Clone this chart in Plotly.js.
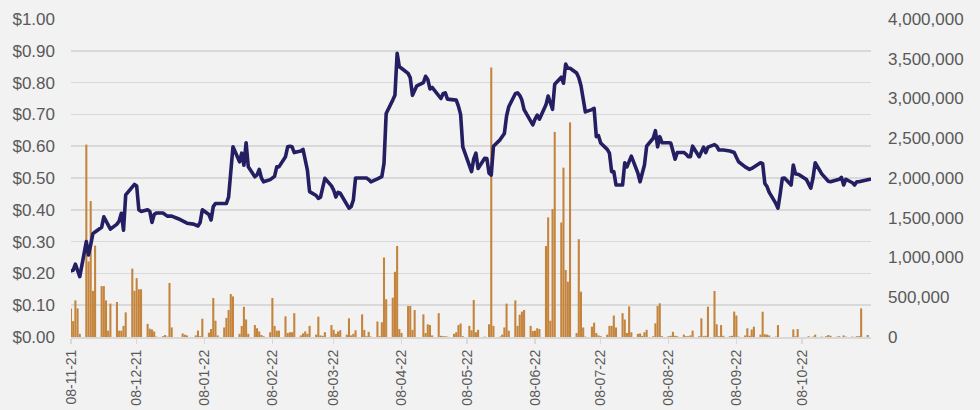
<!DOCTYPE html>
<html>
<head>
<meta charset="utf-8">
<script src="https://cdn.plot.ly/plotly-3.0.1.min.js"></script>
<style>
  html, body { margin: 0; padding: 0; background: #f2f2f2; }
  #chart { width: 980px; height: 410px; }
  #chart .scatterlayer path.js-line { stroke-linejoin: round; stroke-linecap: round; }
</style>
</head>
<body>
<div id="chart"></div>
<script>
// Trading days (weekdays) from the first to the last session shown
const startDate = '2021-11-08';
const endDate = '2022-11-08';

// Closing price per trading day (AUD)
const price = [
  0.208, 0.21, 0.229, 0.21, 0.19,
  0.30, 0.258, 0.29, 0.325, 0.33,
  0.345, 0.378, 0.365, 0.35, 0.339,
  0.355, 0.365, 0.389, 0.336, 0.447,
  0.47, 0.48, 0.475, 0.40, 0.395,
  0.40, 0.395, 0.36, 0.385, 0.39,
  0.39, 0.385, 0.38, 0.38, 0.38,
  0.372, 0.368, 0.365, 0.36, 0.358,
  0.355, 0.352, 0.349, 0.36, 0.40,
  0.385, 0.368, 0.41, 0.42, 0.42,
  0.42, 0.42, 0.44, 0.52, 0.598,
  0.551, 0.578, 0.54, 0.611, 0.535,
  0.504, 0.51, 0.527, 0.50, 0.488,
  0.495, 0.50, 0.505, 0.535, 0.535,
  0.567, 0.598, 0.60, 0.598, 0.58,
  0.585, 0.59, 0.555, 0.525, 0.457,
  0.445, 0.436, 0.44, 0.47, 0.499,
  0.475, 0.462, 0.44, 0.455, 0.452,
  0.42, 0.405, 0.41, 0.431, 0.50,
  0.50, 0.50, 0.50, 0.495, 0.488,
  0.497, 0.50, 0.504, 0.546, 0.703,
  0.745, 0.76, 0.892, 0.85, 0.845,
  0.829, 0.815, 0.76, 0.775, 0.79,
  0.80, 0.82, 0.81, 0.78, 0.785,
  0.755, 0.75, 0.765, 0.768, 0.748,
  0.747, 0.745, 0.726, 0.70, 0.598,
  0.545, 0.52, 0.56, 0.578, 0.53,
  0.562, 0.561, 0.515, 0.509, 0.60,
  0.62, 0.63, 0.64, 0.695, 0.724,
  0.765, 0.768, 0.76, 0.745, 0.715,
  0.68, 0.667, 0.685, 0.698, 0.685,
  0.73, 0.758, 0.735, 0.716, 0.795,
  0.817, 0.798, 0.858, 0.845, 0.845,
  0.83, 0.815, 0.79, 0.75, 0.708,
  0.715, 0.719, 0.63, 0.633, 0.61,
  0.59, 0.578, 0.52, 0.52, 0.478,
  0.478, 0.548, 0.535, 0.55, 0.569,
  0.515, 0.488, 0.515, 0.541, 0.60,
  0.625, 0.649, 0.598, 0.63, 0.611,
  0.611, 0.61, 0.585, 0.559, 0.58,
  0.58, 0.575, 0.567, 0.567, 0.60,
  0.567, 0.585, 0.597, 0.58, 0.597,
  0.605, 0.60, 0.588, 0.588, 0.588,
  0.585, 0.583, 0.58, 0.565, 0.551,
  0.535, 0.53, 0.527, 0.53, 0.535,
  0.548, 0.545, 0.483, 0.473, 0.455,
  0.42, 0.405, 0.45, 0.499, 0.50,
  0.478, 0.541, 0.513, 0.512, 0.509,
  0.495, 0.48, 0.468, 0.50, 0.548,
  0.513, 0.505, 0.496, 0.49, 0.488,
  0.494, 0.496, 0.502, 0.478, 0.496,
  0.485, 0.478, 0.488, 0.488, 0.49,
  0.494, 0.496
];

// Shares traded per trading day
const volume = [
  360000, 200000, 460000, 360000, 40000,
  2420000, 950000, 1710000, 580000, 1150000,
  640000, 640000, 460000, 80000, 420000,
  440000, 80000, 80000, 140000, 310000,
  860000, 580000, 740000, 600000, 600000,
  165000, 105000, 95000, 70000, 5000,
  10000, 25000, 5000, 680000, 120000,
  0, 0, 45000, 30000, 20000,
  0, 20000, 80000, 10000, 230000,
  55000, 100000, 490000, 205000, 20000,
  120000, 240000, 340000, 540000, 510000,
  40000, 140000, 380000, 220000, 40000,
  150000, 110000, 70000, 25000, 10000,
  60000, 490000, 140000, 80000, 80000,
  260000, 50000, 60000, 60000, 300000,
  20000, 45000, 70000, 40000, 140000,
  30000, 255000, 20000, 15000, 60000,
  150000, 90000, 40000, 70000, 85000,
  30000, 235000, 20000, 40000, 85000,
  285000, 90000, 10000, 65000, 5000,
  195000, 10000, 185000, 1000000, 475000,
  495000, 820000, 1145000, 100000, 50000,
  390000, 390000, 90000, 340000, 0,
  285000, 50000, 160000, 150000, 20000,
  300000, 15000, 10000, 10000, 5000,
  40000, 60000, 150000, 170000, 10000,
  140000, 85000, 465000, 60000, 90000,
  5000, 0, 160000, 3390000, 140000,
  5000, 30000, 120000, 420000, 80000,
  460000, 140000, 280000, 320000, 340000,
  140000, 75000, 80000, 110000, 100000,
  1145000, 1505000, 205000, 1610000, 2580000,
  1440000, 2130000, 843000, 696000, 2700000,
  50000, 1230000, 570000, 120000, 5000,
  130000, 180000, 50000, 20000, 10000,
  30000, 140000, 140000, 270000, 120000,
  300000, 220000, 50000, 385000, 60000,
  40000, 45000, 15000, 60000, 90000,
  10000, 172000, 390000, 424000, 10000,
  10000, 15000, 65000, 15000, 10000,
  30000, 10000, 10000, 20000, 80000,
  10000, 235000, 10000, 15000, 381000,
  579000, 160000, 10000, 150000, 15000,
  10000, 15000, 320000, 270000, 5000,
  20000, 110000, 15000, 95000, 130000,
  30000, 318000, 35000, 30000, 20000,
  5000, 150000, 0, 0, 0,
  0, 95000, 10000, 100000, 0,
  0, 10000, 0, 5000, 30000,
  5000, 0, 10000, 25000, 15000,
  5000, 10000, 0, 20000, 5000,
  5000, 0, 10000, 10000, 360000,
  25000, 0
];

// Month tick positions and labels
const tickDates = ['2021-11-08','2021-12-08','2022-01-08','2022-02-08','2022-03-08','2022-04-08',
                   '2022-05-08','2022-06-08','2022-07-08','2022-08-08','2022-09-08','2022-10-08'];
const tickLabels = ['08-11-21','08-12-21','08-01-22','08-02-22','08-03-22','08-04-22',
                    '08-05-22','08-06-22','08-07-22','08-08-22','08-09-22','08-10-22'];

// Build the list of weekdays
function weekdays(s, e) {
  const out = [];
  const d = new Date(s + 'T00:00:00Z');
  const end = new Date(e + 'T00:00:00Z');
  while (d <= end) {
    const wd = d.getUTCDay();
    if (wd !== 0 && wd !== 6) out.push(d.toISOString().slice(0, 10));
    d.setUTCDate(d.getUTCDate() + 1);
  }
  return out;
}
const dates = weekdays(startDate, endDate);

const fontFam = 'Liberation Sans, Arial, sans-serif';
const txtCol = '#595959';

const traces = [
  {
    type: 'bar', x: dates, y: volume, yaxis: 'y',
    marker: { color: '#c4843c', line: { width: 0 } },
    hoverinfo: 'x+y'
  },
  {
    type: 'scatter', mode: 'lines', x: dates, y: price, yaxis: 'y2',
    line: { color: '#241f62', width: 3.6, shape: 'linear' },
    hoverinfo: 'x+y'
  }
];

const layout = {
  width: 980, height: 410,
  paper_bgcolor: '#f2f2f2', plot_bgcolor: '#f2f2f2',
  margin: { l: 71, r: 109, t: 19, b: 73, pad: 0 },
  showlegend: false,
  bargap: 0.05,
  xaxis: {
    type: 'date',
    range: ['2021-11-08', '2022-11-08 12:00'],
    tickmode: 'array', tickvals: tickDates, ticktext: tickLabels,
    tickangle: -90,
    tickfont: { family: fontFam, size: 14, color: txtCol },
    showgrid: false, zeroline: false,
    showline: true, linecolor: '#d9d9d9', linewidth: 2,
    ticks: 'outside', ticklen: 5, tickwidth: 1.5, tickcolor: '#d9d9d9'
  },
  yaxis: {
    side: 'right',
    range: [0, 4000000], dtick: 500000, tick0: 0,
    tickformat: ',d',
    tickfont: { family: fontFam, size: 17, color: txtCol },
    showgrid: false, zeroline: false, showline: false,
    ticks: '', ticklabelstandoff: 16
  },
  yaxis2: {
    overlaying: 'y', side: 'left',
    range: [0, 1], dtick: 0.1, tick0: 0,
    tickformat: '$.2f',
    tickfont: { family: fontFam, size: 17, color: txtCol },
    showgrid: true, gridcolor: '#d9d9d9', gridwidth: 1.5,
    zeroline: false, showline: false,
    ticks: '', ticklabelstandoff: 15
  }
};

Plotly.newPlot('chart', traces, layout, { displayModeBar: false, staticPlot: true });
</script>
</body>
</html>
